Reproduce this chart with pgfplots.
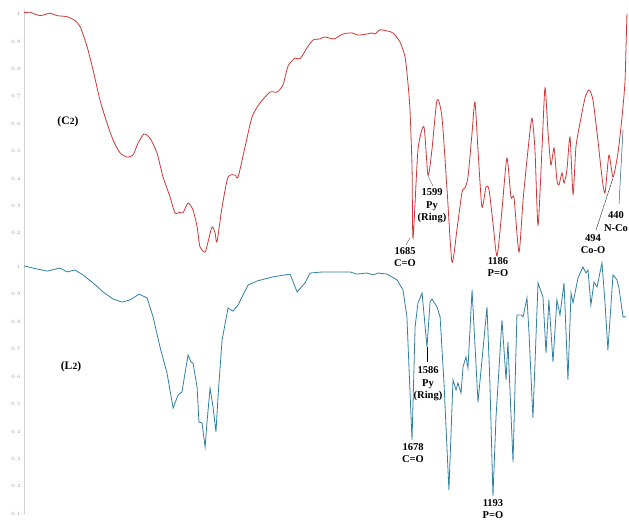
\documentclass[border=0pt]{standalone}
\usepackage{fontspec}
\setmainfont{Liberation Serif}
\usepackage{pgfplots}
\pgfplotsset{compat=1.18}
\usepackage{pgfplotstable}
\definecolor{redline}{RGB}{205,55,55}
\definecolor{blueline}{RGB}{48,128,162}

\pgfplotstableread{
w T
3971 1.005
3935 1.006
3876 0.994
3818 1.003
3777 0.994
3718 0.990
3671 0.976
3641 0.954
3600 0.881
3565 0.796
3524 0.686
3483 0.602
3447 0.540
3406 0.493
3365 0.478
3330 0.485
3300 0.529
3265 0.562
3230 0.547
3189 0.493
3153 0.405
3112 0.332
3083 0.274
3053 0.277
3036 0.274
3006 0.310
2977 0.285
2953 0.223
2936 0.150
2906 0.131
2889 0.168
2865 0.223
2847 0.201
2836 0.168
2806 0.296
2771 0.405
2730 0.412
2712 0.405
2671 0.515
2630 0.624
2583 0.675
2524 0.715
2483 0.715
2448 0.741
2418 0.810
2377 0.839
2348 0.836
2307 0.876
2271 0.905
2230 0.909
2201 0.916
2148 0.909
2095 0.927
2042 0.931
2007 0.923
1954 0.927
1924 0.931
1907 0.927
1877 0.942
1836 0.938
1801 0.931
1760 0.898
1730 0.843
1713 0.748
1701 0.650
1689 0.442
1683 0.182
1654 0.504
1619 0.588
1595 0.412
1572 0.504
1542 0.686
1513 0.624
1483 0.358
1454 0.095
1425 0.212
1395 0.350
1378 0.365
1360 0.405
1336 0.566
1319 0.679
1301 0.504
1278 0.296
1254 0.369
1236 0.358
1213 0.237
1189 0.117
1160 0.285
1131 0.474
1107 0.332
1089 0.328
1060 0.131
1036 0.321
1007 0.504
984 0.620
966 0.504
948 0.230
925 0.504
907 0.730
889 0.566
872 0.449
854 0.511
837 0.394
825 0.376
807 0.420
795 0.383
778 0.431
760 0.551
742 0.343
725 0.515
701 0.602
672 0.693
648 0.723
625 0.686
596 0.540
572 0.405
554 0.347
531 0.485
507 0.405
478 0.493
454 0.624
437 0.748
431 0.869
425 1.000
}\cdata

\pgfplotstableread{
w T
3971 1.004
3918 0.996
3835 0.985
3759 0.996
3718 0.982
3671 0.989
3624 0.971
3565 0.942
3506 0.909
3447 0.883
3394 0.872
3347 0.880
3294 0.901
3247 0.887
3212 0.818
3171 0.708
3130 0.613
3094 0.485
3065 0.533
3042 0.544
3024 0.613
3006 0.679
2989 0.653
2977 0.650
2953 0.562
2942 0.434
2924 0.431
2906 0.343
2895 0.431
2877 0.558
2859 0.489
2842 0.398
2830 0.526
2806 0.734
2771 0.850
2742 0.839
2712 0.861
2683 0.898
2653 0.934
2600 0.949
2506 0.964
2406 0.974
2365 0.909
2318 0.942
2289 0.978
2212 0.982
2130 0.982
2054 0.982
2012 0.974
1954 0.978
1918 0.971
1889 0.978
1836 0.974
1777 0.953
1742 0.916
1719 0.818
1707 0.635
1689 0.369
1671 0.781
1654 0.869
1630 0.905
1601 0.708
1583 0.872
1572 0.883
1542 0.854
1524 0.818
1501 0.577
1472 0.186
1448 0.588
1430 0.551
1419 0.577
1401 0.540
1389 0.635
1372 0.672
1360 0.631
1336 0.916
1301 0.507
1272 0.697
1248 0.854
1231 0.577
1213 0.164
1195 0.453
1160 0.807
1136 0.588
1125 0.726
1095 0.288
1072 0.825
1048 0.825
1036 0.818
1013 0.887
1001 0.759
978 0.449
948 0.942
919 0.891
901 0.686
884 0.880
860 0.653
837 0.880
819 0.825
795 0.942
772 0.588
754 0.905
742 0.869
713 0.960
684 1.000
666 0.978
654 0.989
637 0.861
619 0.945
601 0.927
572 1.015
554 0.869
537 0.697
507 0.971
484 0.953
472 0.923
448 0.818
431 0.818
}\ldata

\pgfplotsset{irstyle/.style={
  scale only axis, width=605pt, x dir=reverse, xmin=413, xmax=3971,
  axis x line=none, axis y line*=left,
  y axis line style={draw=gray!35, line width=0.6pt},
  major tick length=0pt,
  yticklabel style={font=\fontsize{4}{4}\selectfont, text=gray!80},
  clip=false, anchor=south west}}

\newcommand\ann{\fontsize{10.5}{12.5}\selectfont\bfseries}

\begin{document}
\begin{tikzpicture}
\useasboundingbox (0,0) rectangle (629pt,520pt);
\begin{axis}[irstyle, at={(24pt,253.9pt)}, height=257.6pt,
  ymin=0.08, ymax=1.02, ytick={0.2,0.3,0.4,0.5,0.6,0.7,0.8,0.9,1}]
\addplot[redline, line width=0.8pt, smooth, tension=0.4] table[x=w,y=T] {\cdata};
\end{axis}
\begin{axis}[irstyle, at={(24pt,6.4pt)}, height=252.1pt,
  ymin=0.1, ymax=1.02, ytick={0.1,0.2,0.3,0.4,0.5,0.6,0.7,0.8,0.9,1}]
\addplot[blueline, line width=0.8pt] table[x=w,y=T] {\ldata};
\end{axis}

\node[font=\fontsize{11.5}{12}\selectfont\bfseries] at (68pt,398pt) {(C\kern0.3pt{\fontsize{9.5}{9}\selectfont 2})};
\node[font=\fontsize{11.5}{12}\selectfont\bfseries] at (71pt,153pt) {(L\kern0.3pt{\fontsize{9.5}{9}\selectfont 2})};

\node[align=center, inner sep=0pt, font=\ann] at (405pt,263pt) {1685\\C=O};
\node[align=center, inner sep=0pt, font=\ann] at (432pt,314pt) {1599\\Py\\(Ring)};
\node[align=center, inner sep=0pt, font=\ann] at (498pt,253pt) {1186\\P=O};
\node[align=center, inner sep=0pt, font=\ann] at (593pt,276pt) {494\\Co-O};
\node[align=center, inner sep=0pt, font=\ann] at (616pt,298.5pt) {440\\N-Co};
\node[align=center, inner sep=0pt, font=\ann] at (428pt,136pt) {1586\\Py\\(Ring)};
\node[align=center, inner sep=0pt, font=\ann] at (413pt,67pt) {1678\\C=O};
\node[align=center, inner sep=0pt, font=\ann] at (493pt,11pt) {1193\\P=O};

\draw[gray!70!black, line width=0.4pt] (406pt,275pt) -- (410pt,282pt);
\draw[gray!70!black, line width=0.4pt] (433pt,334pt) -- (428pt,344pt);
\draw[black, line width=0.4pt, dash pattern=on 1.5pt off 0.5pt] (596pt,290pt) -- (613pt,342pt);
\draw[blueline!70!black, line width=0.5pt] (619pt,316pt) -- (623pt,390pt);
\draw[black, line width=0.8pt] (427pt,173pt) -- (427pt,158pt);
\end{tikzpicture}
\end{document}
